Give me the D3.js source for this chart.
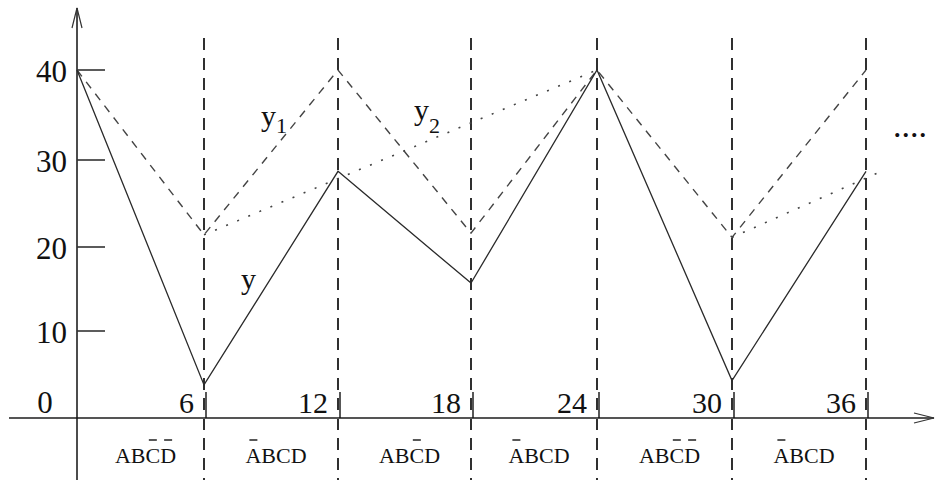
<!DOCTYPE html>
<html>
<head>
<meta charset="utf-8">
<script src="https://cdn.jsdelivr.net/npm/d3@7"></script>
<style>
  html, body { margin: 0; padding: 0; background: #fff; }
  svg { display: block; }
  text { font-family: "Liberation Serif", "Times New Roman", serif; fill: #111; }
</style>
</head>
<body>
<svg id="chart" width="936" height="480"></svg>
<script>
// time steps where the switching states change
const tSteps = [0, 6, 12, 18, 24, 30, 36];
// output y (solid)
const yValues = [40, 3.8, 28.7, 15.7, 40, 4.3, 28.7];
// envelope y1 (dashed)
const y1Values = [40, 21.4, 40, 21.6, 40, 21.1, 40];
// envelope y2 (dotted), drawn as separate pieces
const y2Segments = [
  [[6, 21.4], [24, 40]],
  [[30, 21.1], [36.6, 28.6]]
];
const xTickValues = [6, 12, 18, 24, 30, 36];
const yTickValues = [10, 20, 30, 40];
// "~" marks a negated (overlined) variable
const stateLabels = ["AB~C~D", "~ABCD", "AB~CD", "~ABCD", "AB~C~D", "~ABCD"];

const svg = d3.select("#chart");

const x = d3.scaleLinear().domain(tSteps).range([77, 204, 338, 471, 597, 732, 866]);
const y = d3.scaleLinear().domain([0, 10, 20, 30, 40]).range([418, 331, 247, 160, 70]);

const axisX0 = x(0), axisY0 = y(0);

// vertical dashed separators
svg.append("g").selectAll("line").data(xTickValues).join("line")
  .attr("x1", d => x(d)).attr("x2", d => x(d))
  .attr("y1", 38).attr("y2", 480)
  .attr("stroke", "#1a1a1a").attr("stroke-width", 1.8)
  .attr("stroke-dasharray", "12,8");

// x axis with arrow
svg.append("line")
  .attr("x1", 9).attr("x2", 934).attr("y1", axisY0).attr("y2", axisY0)
  .attr("stroke", "#555").attr("stroke-width", 2);
svg.append("path")
  .attr("d", `M${914},${axisY0 - 5}L${934},${axisY0}L${914},${axisY0 + 5}`)
  .attr("fill", "none").attr("stroke", "#333").attr("stroke-width", 1.2);

// y axis with arrow
svg.append("line")
  .attr("x1", axisX0).attr("x2", axisX0).attr("y1", 8).attr("y2", 480)
  .attr("stroke", "#111").attr("stroke-width", 1.5);
svg.append("path")
  .attr("d", `M${axisX0 - 5},${28}L${axisX0},${8}L${axisX0 + 5},${28}`)
  .attr("fill", "none").attr("stroke", "#333").attr("stroke-width", 1.2);

// x ticks (short, pointing up) and labels
svg.append("g").selectAll("line").data(xTickValues).join("line")
  .attr("x1", d => x(d) + 2).attr("x2", d => x(d) + 2)
  .attr("y1", axisY0 - 26).attr("y2", axisY0)
  .attr("stroke", "#111").attr("stroke-width", 1.4);
svg.append("g").selectAll("text").data(xTickValues).join("text")
  .attr("x", d => x(d) - 10).attr("y", axisY0 - 5)
  .attr("text-anchor", "end").attr("font-size", 30)
  .text(d => d);

// y ticks (pointing right) and labels
svg.append("g").selectAll("line").data(yTickValues).join("line")
  .attr("x1", axisX0).attr("x2", axisX0 + 28)
  .attr("y1", d => y(d)).attr("y2", d => y(d))
  .attr("stroke", "#333").attr("stroke-width", 1.6);
svg.append("g").selectAll("text").data(yTickValues).join("text")
  .attr("x", axisX0 - 10).attr("y", d => y(d) + 12)
  .attr("text-anchor", "end").attr("font-size", 31)
  .text(d => d);
svg.append("text")
  .attr("x", 45).attr("y", axisY0 - 5)
  .attr("text-anchor", "middle").attr("font-size", 31)
  .text(0);

// series
const line = d3.line().x(d => x(d[0])).y(d => y(d[1]));
const pairs = vals => tSteps.map((t, i) => [t, vals[i]]);

svg.append("path").datum(pairs(y1Values)).attr("d", line)
  .attr("fill", "none").attr("stroke", "#444").attr("stroke-width", 1.4)
  .attr("stroke-dasharray", "8,7");

svg.append("g").selectAll("path").data(y2Segments).join("path")
  .attr("d", line)
  .attr("fill", "none").attr("stroke", "#444").attr("stroke-width", 1.6)
  .attr("stroke-dasharray", "2,10");

svg.append("path").datum(pairs(yValues)).attr("d", line)
  .attr("fill", "none").attr("stroke", "#2a2a2a").attr("stroke-width", 1.3);

// series names
function seriesName(px, py, sub, subDy) {
  const t = svg.append("text").attr("x", px).attr("y", py).attr("font-size", 30);
  t.append("tspan").text("y");
  if (sub) t.append("tspan").attr("font-size", 22).attr("dy", subDy).text(sub);
}
seriesName(261, 126, "1", 7);
seriesName(414, 120, "2", 13);
seriesName(241, 289, "", 0);

// continuation marker
svg.append("text").attr("x", 893).attr("y", 137).attr("font-size", 34).text("....");

// state labels under the axis, with overbars for negated variables
stateLabels.forEach((s, k) => {
  const letters = [];
  const neg = [];
  for (let i = 0; i < s.length; i++) {
    if (s[i] === "~") { neg.push(letters.length); continue; }
    letters.push(s[i]);
  }
  const cx = (x(tSteps[k]) + x(tSteps[k + 1])) / 2 + 5;
  const txt = svg.append("text")
    .attr("x", cx).attr("y", 463)
    .attr("text-anchor", "middle").attr("font-size", 22)
    .text(letters.join(""));
  const node = txt.node();
  neg.forEach(i => {
    const b = node.getExtentOfChar(i);
    const mid = b.x + b.width / 2;
    svg.append("line")
      .attr("x1", mid - 4).attr("x2", mid + 4)
      .attr("y1", 440).attr("y2", 440)
      .attr("stroke", "#111").attr("stroke-width", 1.4);
  });
});
</script>
</body>
</html>
